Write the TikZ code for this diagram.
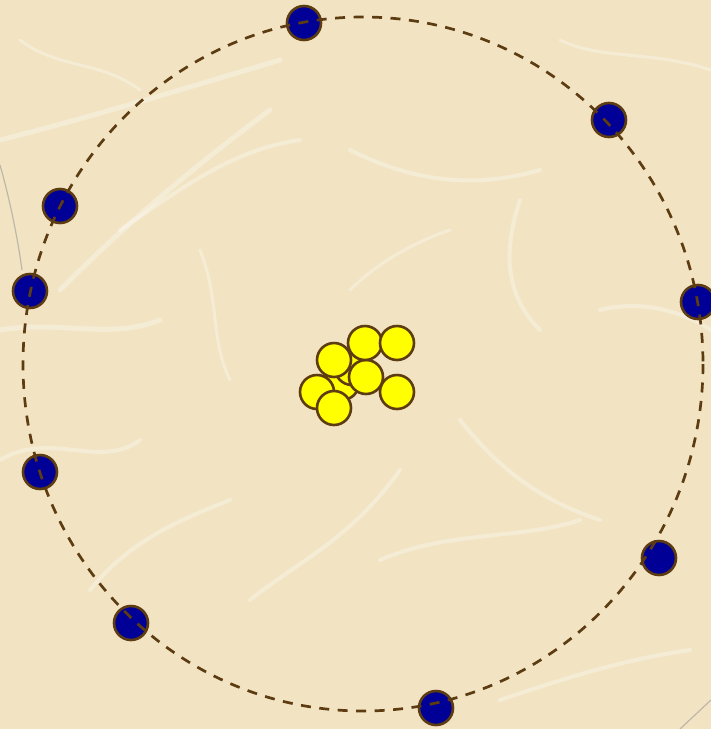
\documentclass[tikz,border=0pt]{standalone}
\usetikzlibrary{calc}
\definecolor{parch}{HTML}{F2E4C3}
\definecolor{brownline}{HTML}{5E3C12}
\definecolor{eblue}{HTML}{000096}
\definecolor{nyellow}{HTML}{FFFF00}
\tikzset{
  electron/.style={circle, minimum size=34pt, inner sep=0pt, fill=eblue, draw=brownline, line width=2.6pt},
  nucleon/.style={circle, minimum size=34pt, inner sep=0pt, fill=nyellow, draw=brownline, line width=2.6pt},
  orbit/.style={draw=brownline, line width=2.7pt, dash pattern=on 10pt off 8.5pt},
  fibre/.style={draw=white, line cap=round, opacity=0.3},
}
\begin{document}
\begin{tikzpicture}[x=1pt, y=-1pt]
\fill[parch] (0,0) rectangle (711,729);
\useasboundingbox (0,0) rectangle (711,729);
% paper fibres
\draw[fibre, line width=5pt] (0,140) .. controls (80,120) and (180,90) .. (280,60);
\draw[fibre, line width=5pt] (60,290) .. controls (130,220) and (190,170) .. (270,110);
\draw[fibre, line width=4pt] (120,230) .. controls (180,190) and (230,150) .. (300,140);
\draw[fibre, line width=4pt] (350,150) .. controls (410,180) and (470,190) .. (540,170);
\draw[fibre, line width=4pt] (520,200) .. controls (500,260) and (510,300) .. (540,330);
\draw[fibre, line width=4pt] (600,310) .. controls (640,300) and (680,310) .. (711,330);
\draw[fibre, line width=5pt] (0,330) .. controls (60,320) and (110,340) .. (160,320);
\draw[fibre, line width=4pt] (0,460) .. controls (50,430) and (100,470) .. (140,440);
\draw[fibre, line width=4pt] (460,420) .. controls (500,470) and (540,500) .. (600,520);
\draw[fibre, line width=4pt] (380,560) .. controls (450,530) and (520,540) .. (580,520);
\draw[fibre, line width=4pt] (90,590) .. controls (130,540) and (180,520) .. (230,500);
\draw[fibre, line width=4pt] (250,600) .. controls (300,560) and (350,540) .. (400,470);
\draw[fibre, line width=4pt] (500,700) .. controls (560,680) and (620,660) .. (690,650);
\draw[fibre, line width=3pt] (200,250) .. controls (220,300) and (210,340) .. (230,380);
\draw[fibre, line width=3pt] (350,290) .. controls (380,260) and (420,240) .. (450,230);
\draw[fibre, line width=3pt] (560,40) .. controls (600,60) and (650,50) .. (711,70);
\draw[fibre, line width=3pt] (20,40) .. controls (60,70) and (100,60) .. (140,90);
\draw[black!45, line width=1.2pt, opacity=0.5] (0,165) .. controls (10,200) and (18,240) .. (22,270);
\draw[black!45, line width=1.2pt, opacity=0.5] (680,729) -- (711,700);
% electrons
\coordinate (centre) at (363,364);
\node[electron] (e1) at (304,23) {};
\node[electron] (e2) at (609,120) {};
\node[electron] (e3) at (698,302) {};
\node[electron] (e4) at (659,558) {};
\node[electron] (e5) at (436,708) {};
\node[electron] (e6) at (131,623) {};
\node[electron] (e7) at (40,472) {};
\node[electron] (e8) at (30,291) {};
\node[electron] (e9) at (60,206) {};
% orbit
\draw[orbit] (centre) ellipse [x radius=340, y radius=347];
% nucleus
\node[nucleon] (n1) at (342,383) {};
\node[nucleon] (n2) at (352,368) {};
\node[nucleon] (n3) at (366,377) {};
\node[nucleon] (n4) at (365,343) {};
\node[nucleon] (n5) at (397,343) {};
\node[nucleon] (n6) at (397,392) {};
\node[nucleon] (n7) at (334,360) {};
\node[nucleon] (n8) at (317,392) {};
\node[nucleon] (n9) at (334,408) {};
\end{tikzpicture}
\end{document}
